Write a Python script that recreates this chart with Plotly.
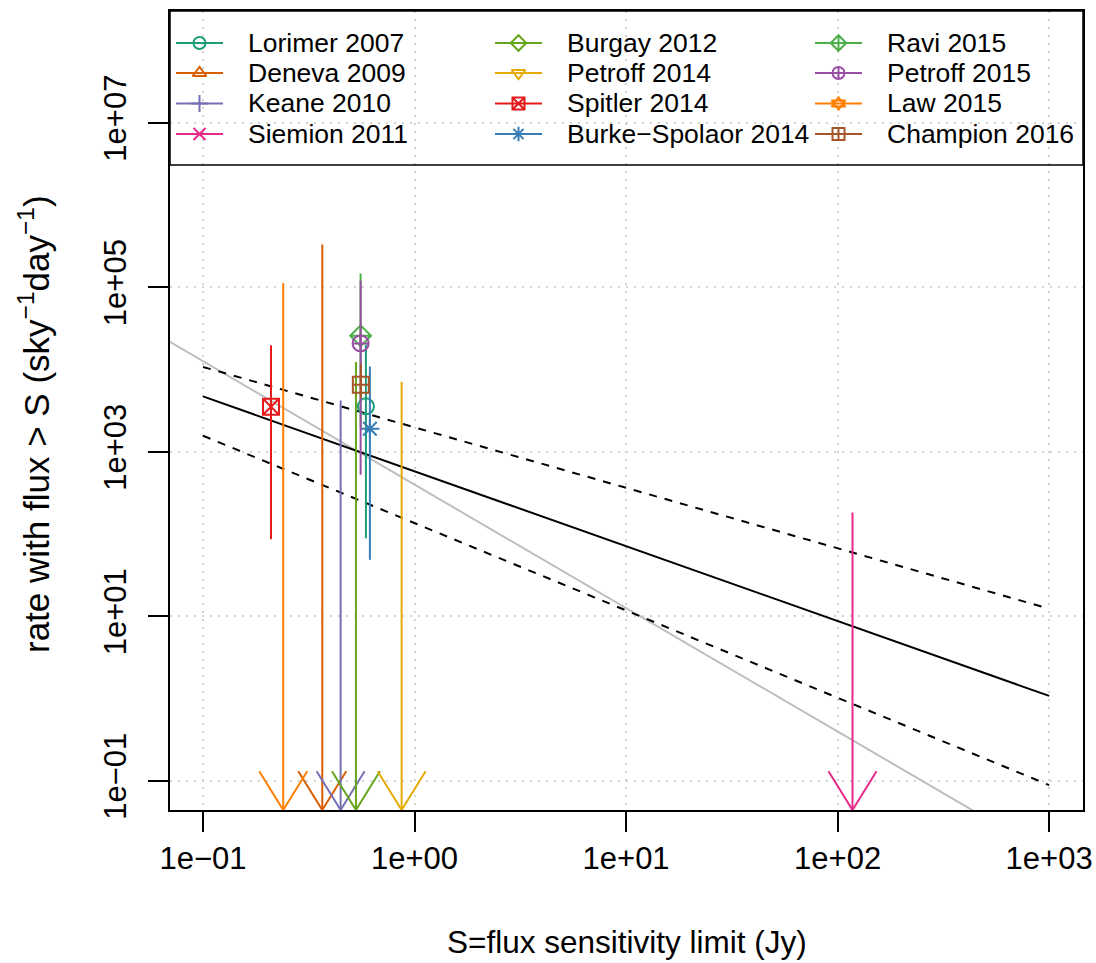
import plotly.graph_objects as go

# ---------------- data ----------------
# detections: flux limit S (Jy), rate (sky^-1 day^-1) and error range
det_names = ["Lorimer 2007", "Spitler 2014", "Burke\u2212Spolaor 2014",
             "Ravi 2015", "Petroff 2015", "Champion 2016"]
det_S = [0.589, 0.2096, 0.615, 0.556, 0.556, 0.5575]
det_rate = [3570, 3540, 1910, 25800, 20800, 6550]
det_hi = [20100, 19700, 10900, 147000, 120700, 11700]
det_lo = [89, 87, 48.7, 2000, 526, 4500]

# upper limits: flux limit S (Jy) and upper bound of the rate
lim_names = ["Deneva 2009", "Keane 2010", "Siemion 2011", "Burgay 2012",
             "Petroff 2014", "Law 2015"]
lim_S = [0.3663, 0.4473, 117.6, 0.5285, 0.869, 0.2395]
lim_hi = [331000, 4220, 183, 12400, 7130, 113000]

# fitted power law and its bounds
fit_S = [0.1, 1000]
fit_rate = [4720, 1.08]
fit_upper = [10770, 12.4]
fit_lower = [1570, 0.089]
# steeper (Euclidean) reference line
eucl_S = [0.05, 1000]
eucl_rate = [35800, 0.0126]

# legend order (column-major) and styles
legend_names = ["Lorimer 2007", "Deneva 2009", "Keane 2010", "Siemion 2011",
                "Burgay 2012", "Petroff 2014", "Spitler 2014", "Burke\u2212Spolaor 2014",
                "Ravi 2015", "Petroff 2015", "Law 2015", "Champion 2016"]
colors = {
    "Lorimer 2007": "#1B9E77", "Deneva 2009": "#D95F02", "Keane 2010": "#7570B3",
    "Siemion 2011": "#E7298A", "Burgay 2012": "#66A61E", "Petroff 2014": "#E6AB02",
    "Spitler 2014": "#E41A1C", "Burke\u2212Spolaor 2014": "#377EB8", "Ravi 2015": "#4DAF4A",
    "Petroff 2015": "#984EA3", "Law 2015": "#FF7F00", "Champion 2016": "#A65628",
}
symbols = {
    "Lorimer 2007": ["circle-open"], "Deneva 2009": ["triangle-up-open"],
    "Keane 2010": ["cross-thin-open"], "Siemion 2011": ["x-thin-open"],
    "Burgay 2012": ["diamond-open"], "Petroff 2014": ["triangle-down-open"],
    "Spitler 2014": ["square-x-open"], "Burke\u2212Spolaor 2014": ["asterisk-open"],
    "Ravi 2015": ["diamond-cross-open"], "Petroff 2015": ["circle-cross-open"],
    "Law 2015": ["triangle-up-open", "triangle-down-open"],
    "Champion 2016": ["square-cross-open"],
}

x_ticks = [0.1, 1, 10, 100, 1000]
x_ticktext = ["1e\u221201", "1e+00", "1e+01", "1e+02", "1e+03"]
y_ticks = [0.1, 10, 1e3, 1e5, 1e7]
y_ticktext = ["1e\u221201", "1e+01", "1e+03", "1e+05", "1e+07"]

# ---------------- layout constants ----------------
W, H = 1096, 963
PL, PR, PT, PB = 170, 1083, 11, 810
XR = [-1.156, 3.16]
YR = [-1.353, 8.358]
FONT = "Liberation Sans, Arial, Helvetica, sans-serif"
TICK_FS = 31
TITLE_FS = 31.5
YTITLE_FS = 35
LEG_FS = 26.5
ARROW_DX = 0.1134   # half width of arrow head (decades of x)
ARROW_DY = 0.47     # length of arrow head (decades of y)


def fx(px):
    return (px - PL) / (PR - PL)


def fy(py):
    return (PB - py) / (PB - PT)


fig = go.Figure()

# fit lines
fig.add_trace(go.Scatter(x=eucl_S, y=eucl_rate, mode="lines",
                         line=dict(color="#BEBEBE", width=2), showlegend=False))
fig.add_trace(go.Scatter(x=fit_S, y=fit_rate, mode="lines",
                         line=dict(color="black", width=2), showlegend=False))
for yy in (fit_upper, fit_lower):
    fig.add_trace(go.Scatter(x=fit_S, y=yy, mode="lines",
                             line=dict(color="black", width=2, dash="8px,8px"),
                             showlegend=False))

y_bottom = 10 ** YR[0]
det_idx = {n: i for i, n in enumerate(det_names)}
lim_idx = {n: i for i, n in enumerate(lim_names)}

for name in legend_names:
    c = colors[name]
    if name in lim_idx:
        i = lim_idx[name]
        s = lim_S[i]
        xs = [s, s, None, s * 10 ** (-ARROW_DX), s, s * 10 ** ARROW_DX]
        ys = [lim_hi[i], y_bottom, None, y_bottom * 10 ** ARROW_DY, y_bottom,
              y_bottom * 10 ** ARROW_DY]
        fig.add_trace(go.Scatter(x=xs, y=ys, mode="lines",
                                 line=dict(color=c, width=2), showlegend=False))
    else:
        i = det_idx[name]
        fig.add_trace(go.Scatter(x=[det_S[i], det_S[i]], y=[det_lo[i], det_hi[i]],
                                 mode="lines", line=dict(color=c, width=2),
                                 showlegend=False))
        fig.add_trace(go.Scatter(x=[det_S[i]], y=[det_rate[i]], mode="markers",
                                 marker=dict(symbol=symbols[name][0], size=16,
                                             color=c, line=dict(width=2, color=c)),
                                 showlegend=False))

# ---------------- manual legend ----------------
col_line_start = [176, 495, 815]
line_len = 47
text_gap = 70
row_y = [43, 73, 103.5, 134]
annotations = []
for k, name in enumerate(legend_names):
    col, row = k // 4, k % 4
    c = colors[name]
    x0 = col_line_start[col]
    yy = row_y[row]
    fig.add_trace(go.Scatter(x=[fx(x0), fx(x0 + line_len)], y=[fy(yy), fy(yy)],
                             mode="lines", line=dict(color=c, width=2),
                             xaxis="x2", yaxis="y2", showlegend=False))
    for sym in symbols[name]:
        fig.add_trace(go.Scatter(x=[fx(x0 + line_len / 2)], y=[fy(yy)], mode="markers",
                                 marker=dict(symbol=sym, size=12, color=c,
                                             line=dict(width=2, color=c)),
                                 xaxis="x2", yaxis="y2", showlegend=False))
    annotations.append(dict(x=fx(x0 + text_gap), y=fy(yy), xref="paper", yref="paper",
                            text=name, showarrow=False, xanchor="left", yanchor="middle",
                            font=dict(size=LEG_FS, color="black", family=FONT)))

# axis titles
annotations.append(dict(x=0.5, y=fy(942), xref="paper", yref="paper",
                        text="S=flux sensitivity limit (Jy)", showarrow=False,
                        xanchor="center", yanchor="middle",
                        font=dict(size=TITLE_FS, color="black", family=FONT)))
annotations.append(dict(x=fx(34), y=fy(424), xref="paper", yref="paper",
                        text="rate with flux > S (sky<sup>\u22121</sup>day<sup>\u22121</sup>)",
                        showarrow=False, textangle=-90, xanchor="center", yanchor="middle",
                        font=dict(size=YTITLE_FS, color="black", family=FONT)))

axis_common = dict(type="log", showline=True, linecolor="black", linewidth=1.5,
                   mirror=True, ticks="outside", ticklen=20, tickwidth=1.5,
                   tickcolor="black", showgrid=True, gridcolor="#D3D3D3",
                   gridwidth=1.5, griddash="2px,6px", zeroline=False,
                   automargin=False,
                   tickfont=dict(size=TICK_FS, color="black", family=FONT))

fig.update_layout(
    width=W, height=H, autosize=False,
    margin=dict(l=PL, r=W - PR, t=PT, b=H - PB, autoexpand=False),
    paper_bgcolor="white", plot_bgcolor="white",
    showlegend=False,
    xaxis=dict(range=XR, tickvals=x_ticks, ticktext=x_ticktext, **axis_common),
    yaxis=dict(range=YR, tickvals=y_ticks, ticktext=y_ticktext, tickangle=-90,
               ticklabelstandoff=10, **axis_common),
    xaxis2=dict(overlaying="x", range=[0, 1], visible=False, anchor="y2",
                automargin=False),
    yaxis2=dict(overlaying="y", range=[0, 1], visible=False, anchor="x2",
                automargin=False),
    annotations=annotations,
    shapes=[dict(type="rect", xref="paper", yref="paper", x0=0, x1=1,
                 y0=fy(165), y1=1, line=dict(color="black", width=1.5))],
)

fig.write_html("out.html", config={"displayModeBar": False},
               post_script="document.body.style.margin='0px';document.body.style.padding='0px';")
